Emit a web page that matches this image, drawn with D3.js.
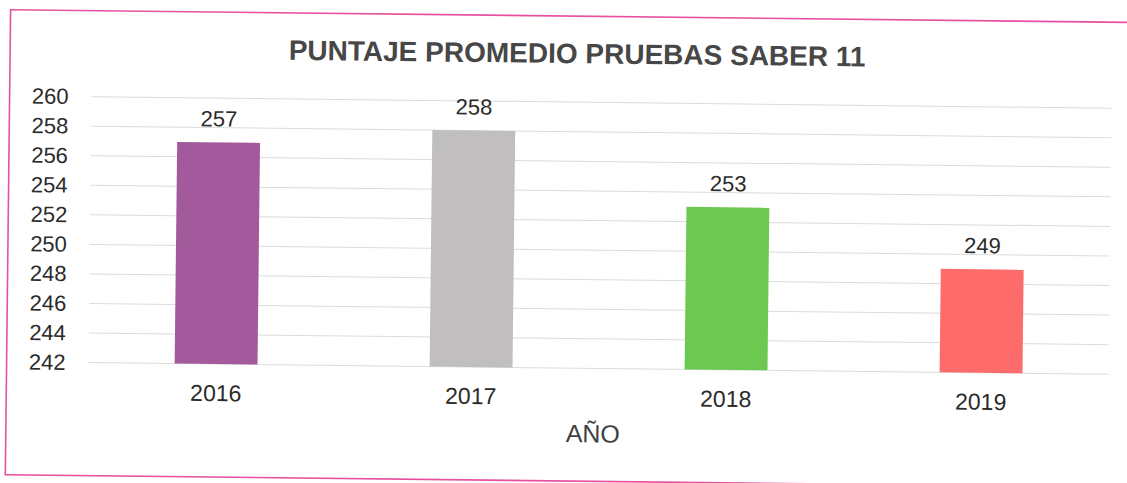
<!DOCTYPE html>
<html>
<head>
<meta charset="utf-8">
<script src="https://cdn.jsdelivr.net/npm/d3@7"></script>
<style>
  html, body { margin: 0; padding: 0; background: #ffffff; }
  svg { display: block; }
  text { font-family: "Liberation Sans", Arial, sans-serif; }
</style>
</head>
<body>
<svg id="chart" width="1127" height="483"></svg>
<script>
// ---- data ----
const categories = ["2016", "2017", "2018", "2019"];
const values = [257, 258, 253, 249];
const barColors = ["#A35A9D", "#C0BEBE", "#6DC851", "#FD6B6B"];
const yTicks = [242, 244, 246, 248, 250, 252, 254, 256, 258, 260];
const chartTitle = "PUNTAJE PROMEDIO PRUEBAS SABER 11";
const xAxisTitle = "AÑO";

// ---- layout ----
const W = 1127, H = 483;
const plot = { left: 90, right: 1110, top: 102, bottom: 368 };

const svg = d3.select("#chart");
const g = svg.append("g")
  .attr("transform", `rotate(0.65, ${W / 2}, ${H / 2})`);

// border
g.append("rect")
  .attr("x", 8).attr("y", 16)
  .attr("width", 1135).attr("height", 465)
  .attr("fill", "none")
  .attr("stroke", "#E6509F")
  .attr("stroke-width", 1.6);

const x = d3.scaleBand()
  .domain(categories)
  .range([plot.left, plot.right])
  .paddingInner(0.675)
  .paddingOuter(0.3375);

const y = d3.scaleLinear()
  .domain([242, 260])
  .range([plot.bottom, plot.top]);

// gridlines
g.append("g")
  .selectAll("line")
  .data(yTicks)
  .join("line")
  .attr("x1", plot.left).attr("x2", plot.right)
  .attr("y1", d => y(d)).attr("y2", d => y(d))
  .attr("stroke", "#DCDCDC")
  .attr("stroke-width", 1);

// y axis labels
const yAxis = d3.axisLeft(y).tickValues(yTicks).tickSize(0).tickPadding(23).tickFormat(d3.format("d"));
const yAxisG = g.append("g")
  .attr("transform", `translate(${plot.left},0)`)
  .call(yAxis);
yAxisG.select(".domain").remove();
yAxisG.selectAll("text")
  .attr("font-size", 22)
  .attr("fill", "#2b2b2b")
  .style("font-family", "'Liberation Sans', Arial, sans-serif");

// bars
g.append("g")
  .selectAll("rect")
  .data(categories)
  .join("rect")
  .attr("x", d => x(d))
  .attr("width", x.bandwidth())
  .attr("y", (d, i) => y(values[i]))
  .attr("height", (d, i) => y(242) - y(values[i]))
  .attr("fill", (d, i) => barColors[i]);

// value labels
g.append("g")
  .selectAll("text")
  .data(categories)
  .join("text")
  .attr("x", d => x(d) + x.bandwidth() / 2)
  .attr("y", (d, i) => y(values[i]) - 16)
  .attr("text-anchor", "middle")
  .attr("font-size", 22)
  .attr("fill", "#2b2b2b")
  .text((d, i) => d3.format("d")(values[i]));

// x axis labels
const xAxis = d3.axisBottom(x).tickSize(0).tickPadding(0);
const xAxisG = g.append("g")
  .attr("transform", `translate(0,${plot.bottom})`)
  .call(xAxis);
xAxisG.select(".domain").remove();
xAxisG.selectAll("text")
  .attr("dy", null)
  .attr("y", 37)
  .attr("font-size", 23)
  .attr("fill", "#2b2b2b")
  .style("font-family", "'Liberation Sans', Arial, sans-serif");

// x axis title
g.append("text")
  .attr("x", 595).attr("y", 442)
  .attr("text-anchor", "middle")
  .attr("font-size", 25)
  .attr("fill", "#404040")
  .text(xAxisTitle);

// chart title
g.append("text")
  .attr("x", 575).attr("y", 63)
  .attr("text-anchor", "middle")
  .attr("font-size", 28)
  .attr("font-weight", "bold")
  .attr("fill", "#474747")
  .text(chartTitle);
</script>
</body>
</html>
